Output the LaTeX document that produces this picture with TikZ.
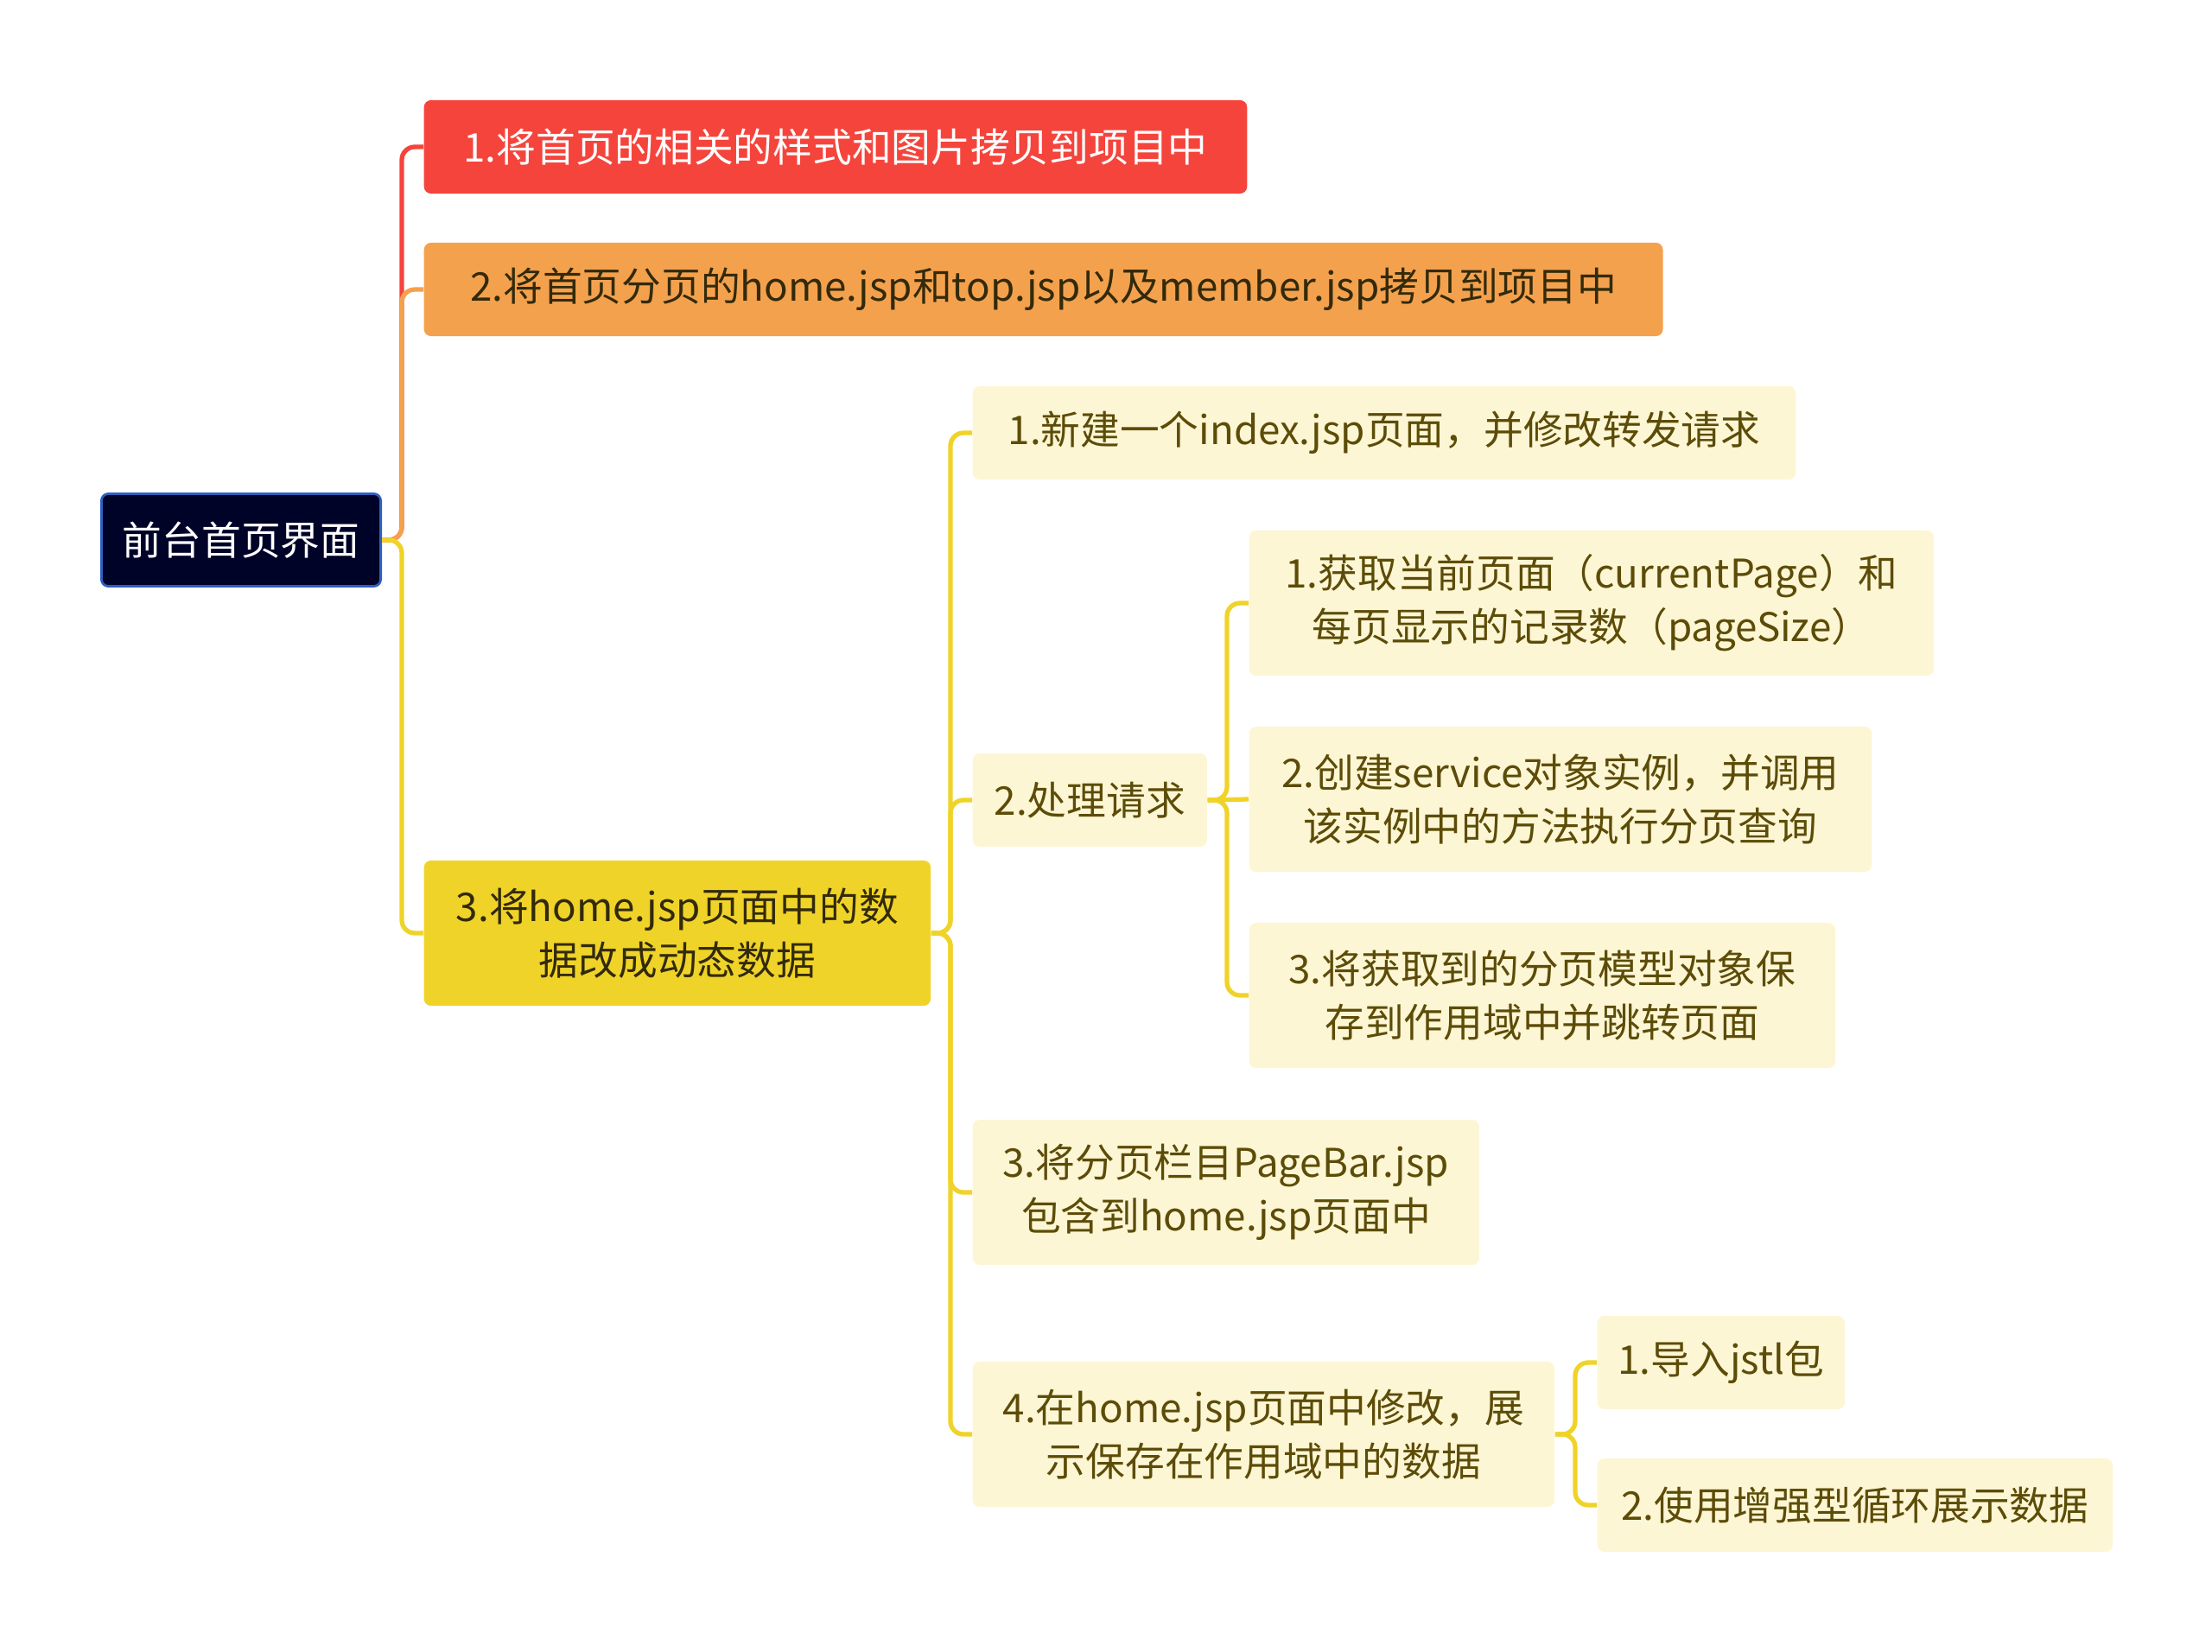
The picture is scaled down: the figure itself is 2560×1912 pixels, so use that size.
\documentclass[tikz,border=0pt]{standalone}
\usepackage{fontspec}
\setmainfont{Noto Sans CJK SC}
\usepackage{xcolor}
\usepackage{tikz}

\definecolor{rootfill}{RGB}{0,3,40}
\definecolor{rootedge}{RGB}{45,95,190}
\definecolor{redbranch}{RGB}{245,68,60}
\definecolor{orangebranch}{RGB}{244,161,78}
\definecolor{yellowbranch}{RGB}{240,211,40}
\definecolor{leaffill}{RGB}{253,246,212}
\definecolor{leaftext}{RGB}{92,76,8}
\definecolor{darktext}{RGB}{50,42,10}

\begin{document}
\begin{tikzpicture}[x=0.01cm, y=-0.01cm, line join=round]
    \tikzstyle{box} = [rectangle, rounded corners=0.08cm, anchor=west, align=center, inner sep=0pt, font=\fontsize{13pt}{17.6pt}\selectfont]
    \tikzstyle{root} = [box, fill=rootfill, draw=rootedge, line width=0.8pt, text=white, minimum width=3.23cm, minimum height=1.07cm]
    \tikzstyle{redtopic} = [box, fill=redbranch, text=white, minimum height=1.08cm]
    \tikzstyle{orangetopic} = [box, fill=orangebranch, text=darktext, minimum height=1.08cm]
    \tikzstyle{yellowtopic} = [box, fill=yellowbranch, text=darktext, minimum height=1.68cm]
    \tikzstyle{leaf} = [box, fill=leaffill, text=leaftext, minimum height=1.08cm]
    \tikzstyle{tallleaf} = [leaf, minimum height=1.68cm]
    \tikzstyle{link} = [line width=1.5pt, rounded corners=0.15cm]

    \useasboundingbox (0,0) rectangle (2560,1912);

    % Root and first level
    \node (home) [root] at (116,625) {前台首页界面};
    \node (copy) [redtopic, minimum width=9.52cm] at (490,170) {1.将首页的相关的样式和图片拷贝到项目中};
    \node (jsp) [orangetopic, minimum width=14.33cm] at (490,335) {2.将首页分页的home.jsp和top.jsp以及member.jsp拷贝到项目中};
    \node (dyn) [yellowtopic, minimum width=5.86cm] at (490,1080) {3.将home.jsp页面中的数\\据改成动态数据};

    % Second level
    \node (index) [leaf, minimum width=9.52cm] at (1125,501) {1.新建一个index.jsp页面，并修改转发请求};
    \node (req) [leaf, minimum width=2.71cm] at (1125,926) {2.处理请求};
    \node (bar) [tallleaf, minimum width=5.86cm] at (1125,1380) {3.将分页栏目PageBar.jsp\\包含到home.jsp页面中};
    \node (show) [tallleaf, minimum width=6.73cm] at (1125,1660) {4.在home.jsp页面中修改，展\\示保存在作用域中的数据};

    % Third level
    \node (getpage) [tallleaf, minimum width=7.92cm] at (1445,698) {1.获取当前页面（currentPage）和\\每页显示的记录数（pageSize）};
    \node (service) [tallleaf, minimum width=7.20cm] at (1445,925) {2.创建service对象实例，并调用\\该实例中的方法执行分页查询};
    \node (save) [tallleaf, minimum width=6.78cm] at (1445,1152) {3.将获取到的分页模型对象保\\存到作用域中并跳转页面};
    \node (jstl) [leaf, minimum width=2.86cm] at (1848,1577) {1.导入jstl包};
    \node (loop) [leaf, minimum width=5.96cm] at (1848,1742) {2.使用增强型循环展示数据};

    % Connections from the root
    \draw[link, redbranch] (home.east) -- (465,625) |- (copy.west);
    \draw[link, orangebranch] (home.east) -- (465,625) |- (jsp.west);
    \draw[link, yellowbranch] (home.east) -- (465,625) |- (dyn.west);

    % Connections inside the third branch
    \draw[link, yellowbranch] (dyn.east) -- (1100,1080) |- (index.west);
    \draw[link, yellowbranch] (dyn.east) -- (1100,1080) |- (req.west);
    \draw[link, yellowbranch] (dyn.east) -- (1100,1080) |- (bar.west);
    \draw[link, yellowbranch] (dyn.east) -- (1100,1080) |- (show.west);

    \draw[link, yellowbranch] (req.east) -- (1420,926) |- (getpage.west);
    \draw[link, yellowbranch] (req.east) -- (service.west);
    \draw[link, yellowbranch] (req.east) -- (1420,926) |- (save.west);

    \draw[link, yellowbranch] (show.east) -- (1823,1660) |- (jstl.west);
    \draw[link, yellowbranch] (show.east) -- (1823,1660) |- (loop.west);
\end{tikzpicture}
\end{document}
